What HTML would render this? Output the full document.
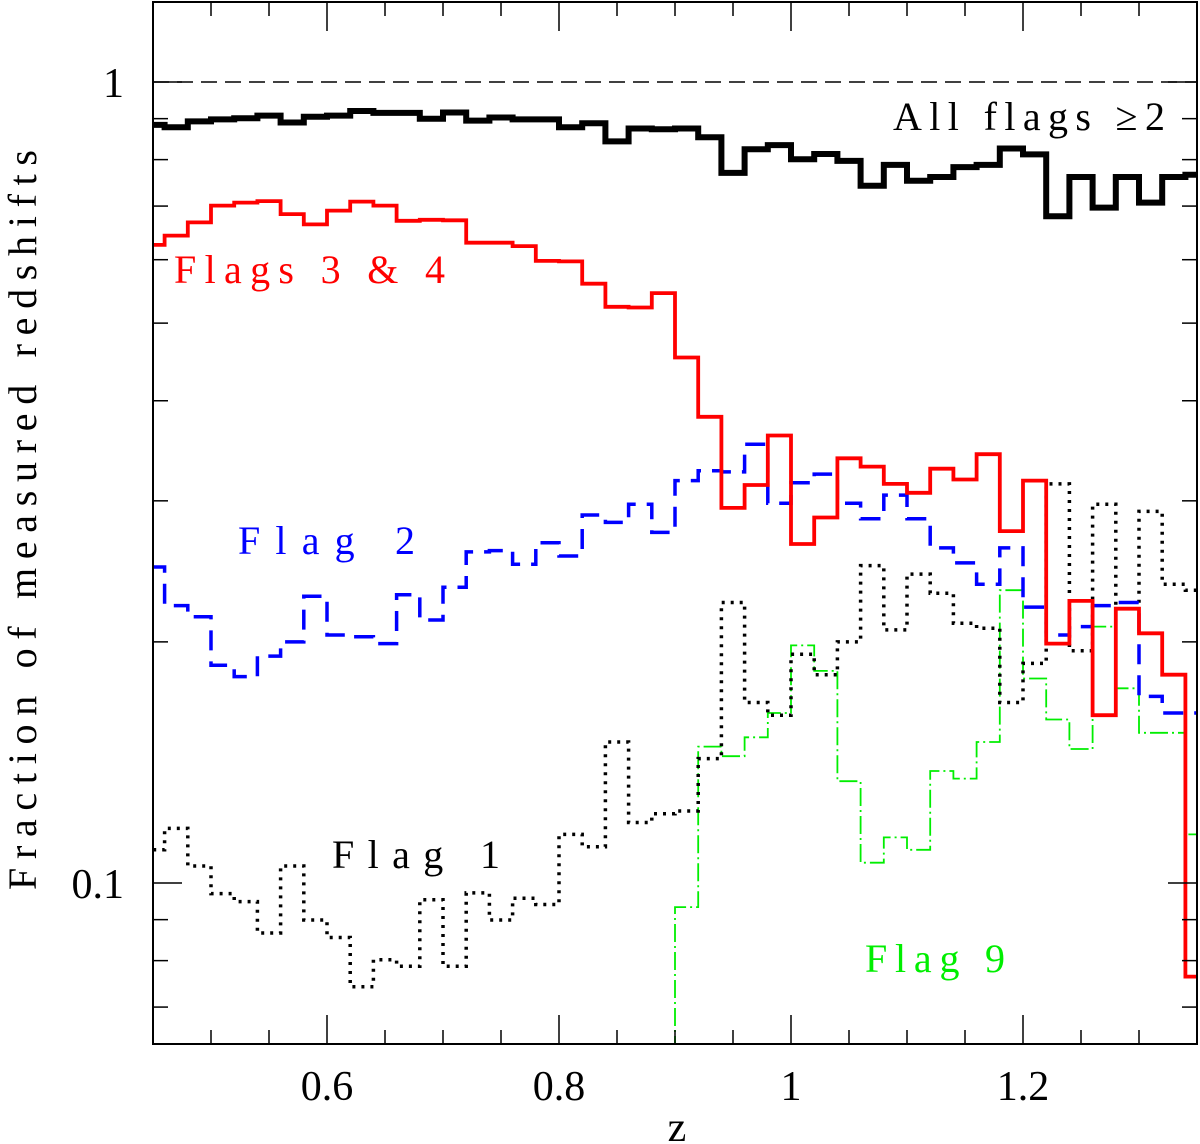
<!DOCTYPE html>
<html><head><meta charset="utf-8"><style>
html,body{margin:0;padding:0;background:#fff;}
svg{display:block;font-family:"Liberation Serif",serif;}
</style></head><body>
<svg id="chart" width="1200" height="1144" viewBox="0 0 1200 1144" xmlns="http://www.w3.org/2000/svg">
<defs><clipPath id="plotclip"><rect x="153" y="2" width="1044" height="1042"/></clipPath></defs>
<g id="marks" clip-path="url(#plotclip)"></g>
<g id="axes"></g>
<text x="0" y="0" transform="translate(36,520) rotate(-90)" text-anchor="middle" font-size="40" textLength="740" lengthAdjust="spacing">Fraction of measured redshifts</text>
<text x="677" y="1141" text-anchor="middle" font-size="42">z</text>
<text x="893" y="130" font-size="40" textLength="272" lengthAdjust="spacing">All flags ≥2</text>
<text x="174" y="283" font-size="40" fill="#ff0000" textLength="271" lengthAdjust="spacing">Flags 3 &amp; 4</text>
<text x="238" y="554" font-size="40" fill="#0000ff" textLength="177" lengthAdjust="spacing">Flag 2</text>
<text x="332" y="868" font-size="40" fill="#000" textLength="168" lengthAdjust="spacing">Flag 1</text>
<text x="865" y="972" font-size="40" fill="#00ee00" textLength="140" lengthAdjust="spacing">Flag 9</text>
</svg>
<script>
// bins: 0.44..1.36 in steps of 0.02 (46 bins), value per bin
const binStart = 0.44;
const binWidth = 0.02;
const allFlags = [0.884,0.878,0.893,0.898,0.901,0.908,0.890,0.905,0.908,0.920,0.915,0.915,0.900,0.916,0.895,0.903,0.898,0.898,0.878,0.888,0.843,0.875,0.873,0.875,0.853,0.770,0.824,0.834,0.801,0.813,0.797,0.742,0.788,0.753,0.761,0.783,0.788,0.826,0.812,0.680,0.761,0.697,0.761,0.707,0.761,0.766];
const flags34 = [0.626,0.643,0.668,0.701,0.707,0.710,0.684,0.664,0.691,0.709,0.701,0.671,0.673,0.672,0.630,0.630,0.624,0.598,0.597,0.560,0.524,0.523,0.545,0.453,0.382,0.294,0.314,0.362,0.265,0.286,0.339,0.331,0.315,0.307,0.329,0.319,0.343,0.275,0.318,0.199,0.225,0.162,0.220,0.205,0.182,0.0764];
const flag2 = [0.248,0.222,0.215,0.187,0.181,0.192,0.200,0.228,0.204,0.203,0.199,0.229,0.213,0.234,0.259,0.260,0.250,0.266,0.256,0.288,0.282,0.297,0.274,0.318,0.327,0.326,0.353,0.298,0.316,0.324,0.298,0.285,0.305,0.285,0.262,0.251,0.236,0.262,0.221,0.204,0.209,0.222,0.224,0.171,0.163,0.163];
const flag1 = [0.110,0.117,0.105,0.097,0.0948,0.0866,0.105,0.0899,0.0855,0.0742,0.0802,0.0787,0.0953,0.0787,0.0972,0.0899,0.0957,0.094,0.115,0.111,0.150,0.119,0.122,0.123,0.143,0.224,0.168,0.162,0.193,0.182,0.200,0.249,0.207,0.243,0.230,0.211,0.208,0.168,0.188,0.315,0.195,0.297,0.220,0.291,0.236,0.232];
const flag9 = [null,null,null,null,null,null,null,null,null,null,null,null,null,null,null,null,null,null,null,null,null,null,null,0.0933,0.148,0.144,0.152,0.163,0.198,0.184,0.134,0.106,0.114,0.110,0.138,0.135,0.150,0.232,0.180,0.160,0.147,0.209,0.175,0.154,0.154,0.115];
const xTickLabels = ["0.6","0.8","1","1.2"];
const xTickValues = [0.6,0.8,1.0,1.2];
const yTickLabels = ["1","0.1"];
const yTickValues = [1,0.1];

const X0=153,X1=1197,Y0=2,Y1=1044;
const zMin=0.45,zMax=1.35;
function X(z){return X0+(z-zMin)/(zMax-zMin)*(X1-X0);}
function Y(v){return 883-(Math.log10(v)+1)*801;}
const NS="http://www.w3.org/2000/svg";
const marks=document.getElementById('marks');
const axes=document.getElementById('axes');

function stepPath(vals){
  let d="";let prev=null;
  for(let i=0;i<vals.length;i++){
    const v=vals[i];
    const xa=X(binStart+i*binWidth), xb=X(binStart+(i+1)*binWidth);
    if(v==null){prev=null;continue;}
    const y=Y(v);
    if(prev==null){d+=(d?" ":"")+"M"+xa.toFixed(1)+" "+(Y1+10)+" L"+xa.toFixed(1)+" "+y.toFixed(1);}
    else{d+=" L"+xa.toFixed(1)+" "+y.toFixed(1);}
    d+=" L"+xb.toFixed(1)+" "+y.toFixed(1);
    prev=v;
  }
  return d;
}
function addSeries(vals,name,color,width,dash){
  const p=document.createElementNS(NS,'path');
  
  
  p.setAttribute('d',stepPath(vals));
  p.setAttribute('fill','none');
  p.setAttribute('stroke',color);
  p.setAttribute('stroke-width',width);
  if(dash)p.setAttribute('stroke-dasharray',dash);
  marks.appendChild(p);
}
const ref=document.createElementNS(NS,'line');


ref.setAttribute('x1',X0);ref.setAttribute('x2',X1);
ref.setAttribute('y1',Y(1));ref.setAttribute('y2',Y(1));
ref.setAttribute('stroke','#000');ref.setAttribute('stroke-width','1.5');
ref.setAttribute('stroke-dasharray','16 8');
marks.appendChild(ref);

addSeries(flag9,'flag-9-line','#00ee00',1.8,'18 4 2 4');
addSeries(flag1,'flag-1-line','#000',3.5,'3 6');
addSeries(flag2,'flag-2-line','#0000ff',3.5,'20 11');
addSeries(flags34,'flags-3-4-line','#ff0000',3.8,null);
addSeries(allFlags,'all-flags-line','#000',6,null);

const fr=document.createElementNS(NS,'rect');


fr.setAttribute('x',X0);fr.setAttribute('y',Y0);fr.setAttribute('width',X1-X0);fr.setAttribute('height',Y1-Y0);
fr.setAttribute('fill','none');fr.setAttribute('stroke','#000');fr.setAttribute('stroke-width','2');
axes.appendChild(fr);

function tick(x1,y1,x2,y2,name){
  const l=document.createElementNS(NS,'line');
  
  
  l.setAttribute('x1',x1);l.setAttribute('y1',y1);l.setAttribute('x2',x2);l.setAttribute('y2',y2);
  l.setAttribute('stroke','#000');l.setAttribute('stroke-width','1.5');
  axes.appendChild(l);
}
for(let k=Math.ceil(zMin/0.05);k*0.05<=zMax+1e-9;k++){
  const z=k*0.05;const x=X(z);
  const major=Math.abs(z/0.2-Math.round(z/0.2))<1e-6;
  const L=major?29:14;
  tick(x,Y1,x,Y1-L,'x-tick');
  tick(x,Y0,x,Y0+L,'x-tick-top');
}
xTickValues.forEach((z,i)=>{
  const t=document.createElementNS(NS,'text');
  
  
  t.setAttribute('x',X(z));t.setAttribute('y',1100);
  t.setAttribute('text-anchor','middle');t.setAttribute('font-size','42');
  t.textContent=xTickLabels[i];axes.appendChild(t);
});
for(let e=-2;e<=0;e++){
  for(let m=1;m<=9;m++){
    const v=m*Math.pow(10,e);const y=Y(v);
    if(y<Y0||y>Y1)continue;
    const L=m===1?29:15;
    tick(X0,y,X0+L,y,'y-tick');
    tick(X1,y,X1-L,y,'y-tick-right');
  }
}
yTickValues.forEach((v,i)=>{
  const t=document.createElementNS(NS,'text');
  
  
  t.setAttribute('x',124);t.setAttribute('y',Y(v)+15);
  t.setAttribute('text-anchor','end');t.setAttribute('font-size','42');
  t.textContent=yTickLabels[i];axes.appendChild(t);
});
</script>
</body></html>
